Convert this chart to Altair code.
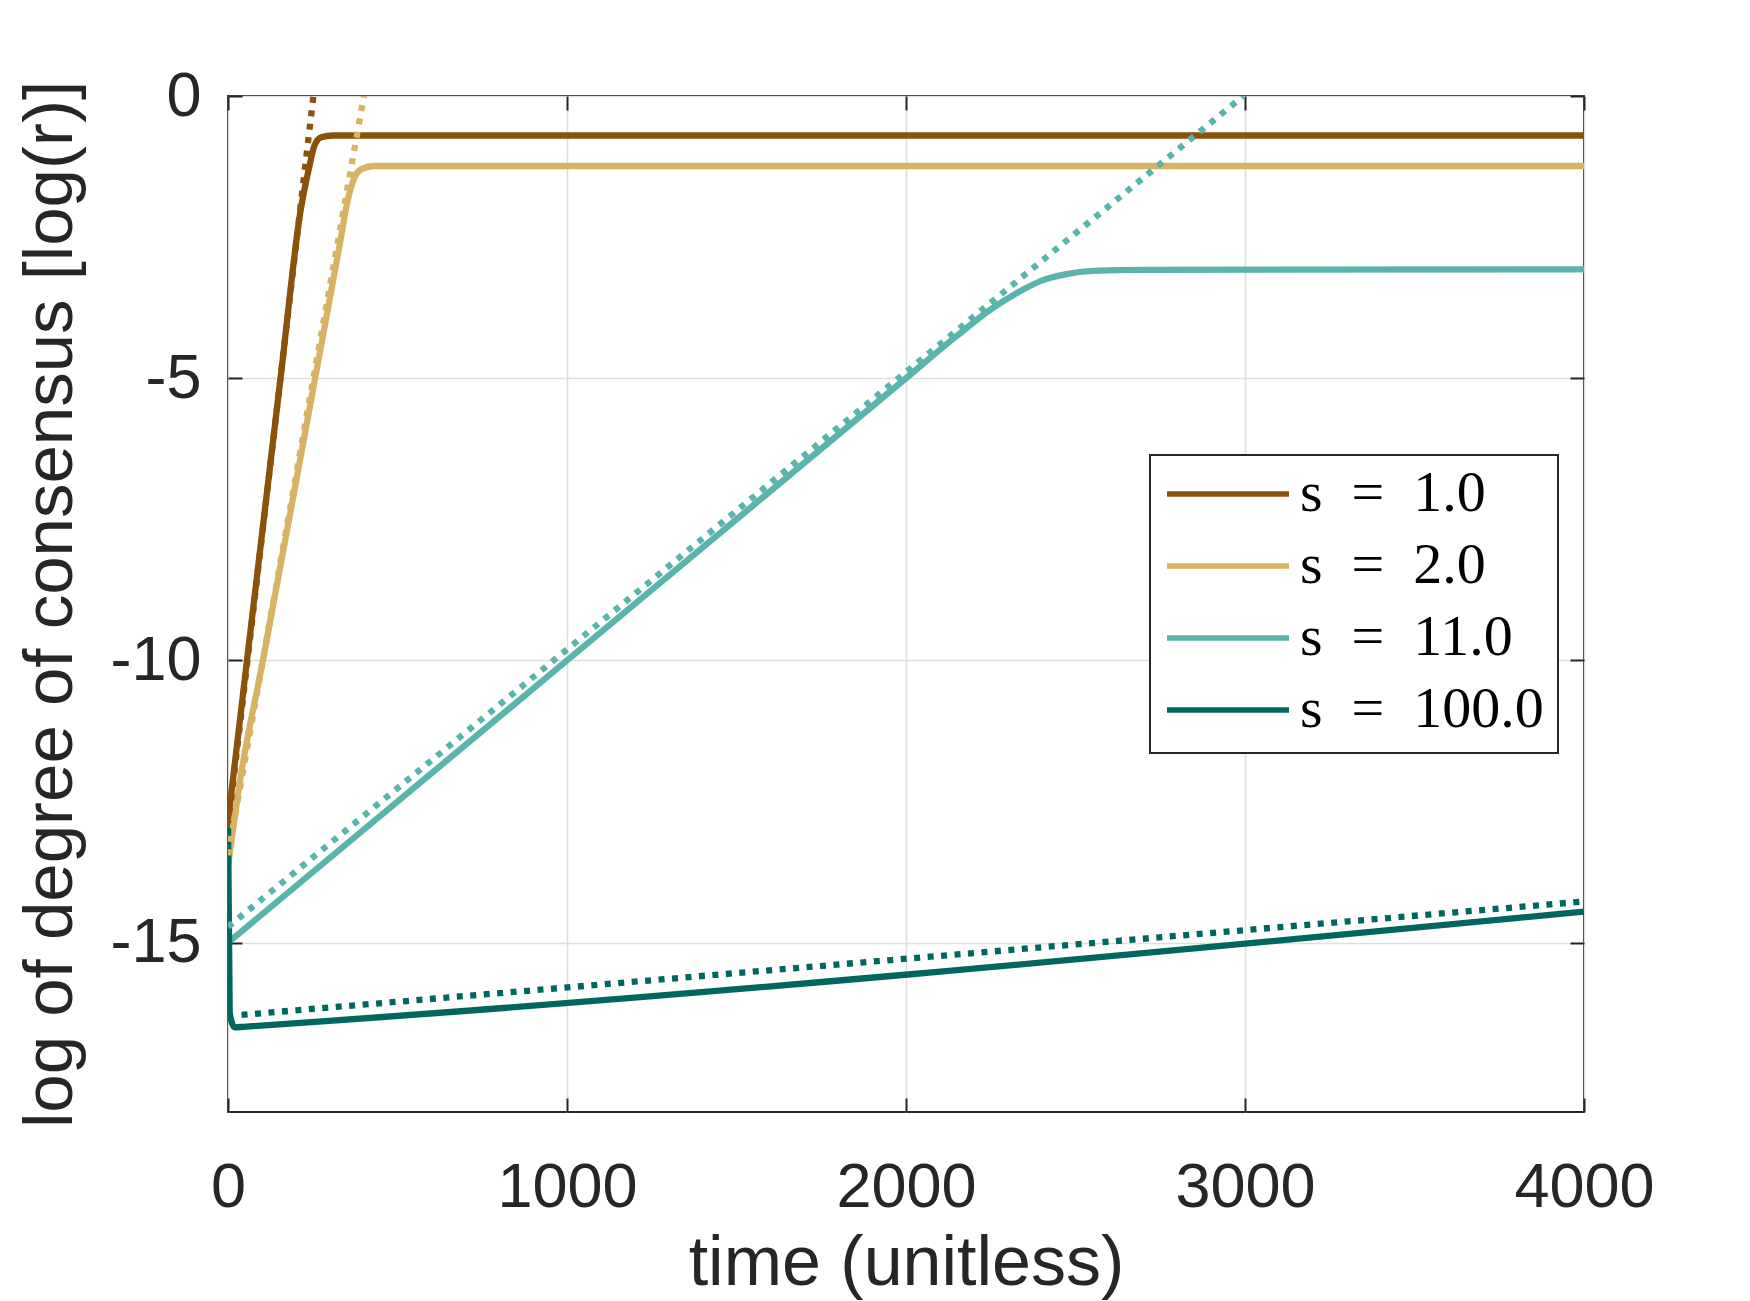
import altair as alt
import pandas as pd

# Series labels and colours (BrBG diverging palette)
series_names = ["s\u2002=\u20021.0", "s\u2002=\u20022.0", "s\u2002=\u200211.0", "s\u2002=\u2002100.0"]
series_colors = ["#8C510A", "#D8B365", "#5AB4AC", "#01665E"]

# Simulated log degree of consensus (solid lines)
t_s1 = [0, 56, 155, 215, 240, 255, 275, 310, 4000]
y_s1 = [-12.85, -10.0, -5.0, -2.0, -1.25, -0.88, -0.73, -0.70, -0.70]

t_s2 = [0, 35, 103, 257, 330, 355, 375, 395, 430, 4000]
y_s2 = [-13.65, -12.15, -10.0, -5.0, -2.62, -1.8, -1.42, -1.29, -1.24, -1.24]

t_s11 = [0, 1000, 2000, 2150, 2250, 2330, 2400, 2470, 2550, 2700, 4000]
y_s11 = [-15.0, -10.0, -5.0, -4.25, -3.78, -3.48, -3.27, -3.16, -3.1, -3.08, -3.07]

t_s100 = [0, 5, 20, 45, 4000]
y_s100 = [-12.85, -16.25, -16.5, -16.49, -14.45]

# Linear growth-rate predictions (dotted lines)
t_d1 = [0, 252]
y_d1 = [-12.95, 0.0]
t_d2 = [0, 401]
y_d2 = [-13.45, 0.0]
t_d11 = [0, 2995]
y_d11 = [-14.72, 0.0]
t_d100 = [40, 4000]
y_d100 = [-16.28, -14.27]

x_ticks = [0, 1000, 2000, 3000, 4000]
y_ticks = [-15, -10, -5, 0]


def frame(name, ts, ys):
    return pd.DataFrame({"series": name, "t": ts, "v": ys})


solid_a = pd.concat([frame(series_names[0], t_s1, y_s1),
                     frame(series_names[1], t_s2, y_s2)])
solid_b = pd.concat([frame(series_names[2], t_s11, y_s11),
                     frame(series_names[3], t_s100, y_s100)])
dotted = pd.concat([frame(series_names[0], t_d1, y_d1),
                    frame(series_names[1], t_d2, y_d2),
                    frame(series_names[2], t_d11, y_d11),
                    frame(series_names[3], t_d100, y_d100)])

W, H = 1356, 1016
INK = "#262626"
SANS = "Liberation Sans"
LW = 6.3

xs = alt.Scale(domain=[0, 4000], nice=False, zero=False)
ys = alt.Scale(domain=[-18, 0], nice=False, zero=False)
cs = alt.Scale(domain=series_names, range=series_colors)

x_main = alt.Axis(orient="bottom", values=x_ticks, format="d", grid=True, ticks=False,
                  domain=False, labelFont=SANS, labelFontSize=63, labelColor=INK,
                  labelPadding=44, labelFlush=False, labelOverlap=False,
                  title="time (unitless)", titleFont=SANS,
                  titleFontSize=70, titleFontWeight="normal", titleColor=INK,
                  titlePadding=10, gridColor="#dedede", gridWidth=1.5)
y_main = alt.Axis(orient="left", values=y_ticks, grid=True, ticks=False, domain=False,
                  labelFont=SANS, labelFontSize=63, labelColor=INK, labelPadding=27,
                  labelFlush=False, labelOverlap=False,
                  labelExpr="replace(datum.label, '\u2212', '-')",
                  title="log of degree of consensus [log(r)]", titleFont=SANS,
                  titleFontSize=69, titleFontWeight="normal", titleColor=INK,
                  titlePadding=24, gridColor="#dedede", gridWidth=1.5)

# Inward-pointing tick marks on all four sides of the frame
x_tick_top = alt.Axis(orient="bottom", offset=-H, values=x_ticks, labels=False, grid=False,
                      domain=False, tickSize=14, tickWidth=2, tickColor=INK, title=None)
x_tick_bottom = alt.Axis(orient="top", offset=-H, values=x_ticks, labels=False, grid=False,
                         domain=False, tickSize=14, tickWidth=2, tickColor=INK, title=None)
y_tick_right = alt.Axis(orient="left", offset=-W, values=y_ticks, labels=False, grid=False,
                        domain=False, tickSize=14, tickWidth=2, tickColor=INK, title=None)
y_tick_left = alt.Axis(orient="right", offset=-W, values=y_ticks, labels=False, grid=False,
                       domain=False, tickSize=14, tickWidth=2, tickColor=INK, title=None)

legend = alt.Legend(title=None, orient="none", legendX=922, legendY=359, padding=14,
                    strokeColor=INK, fillColor="white", symbolType="stroke",
                    symbolSize=14884, symbolStrokeWidth=5.5, labelFont="Liberation Serif",
                    labelFontSize=58, labelColor="black", labelLimit=0, clipHeight=50,
                    rowPadding=14, labelOffset=8, labelBaseline="middle")

layer_a = alt.Chart(solid_a).mark_line(strokeWidth=LW, interpolate="monotone", clip=True).encode(
    x=alt.X("t:Q", scale=xs, axis=x_main),
    y=alt.Y("v:Q", scale=ys, axis=y_main),
    color=alt.Color("series:N", scale=cs, legend=legend),
)

layer_b = alt.Chart(solid_b).mark_line(strokeWidth=LW, interpolate="monotone", clip=True).encode(
    x=alt.X("t:Q", scale=xs, axis=x_tick_bottom),
    y=alt.Y("v:Q", scale=ys, axis=y_tick_left),
    color=alt.Color("series:N", scale=cs, legend=None),
)

layer_c = alt.Chart(dotted).mark_line(strokeWidth=LW, strokeDash=[6, 7.5], strokeCap="butt",
                                      clip=True).encode(
    x=alt.X("t:Q", scale=xs, axis=x_tick_top),
    y=alt.Y("v:Q", scale=ys, axis=y_tick_right),
    color=alt.Color("series:N", scale=cs, legend=None),
)

chart = (
    alt.layer(layer_a, layer_b, layer_c)
    .resolve_axis(x="independent", y="independent")
    .properties(width=W, height=H, autosize=alt.AutoSizeParams(type="none"),
                padding={"left": 228, "top": 96, "right": 166, "bottom": 189},
                background="white")
    .configure_view(stroke=INK, strokeWidth=2)
    .configure_legend(strokeWidth=2)
)

chart.save("out.html", embed_options={"renderer": "svg", "actions": False})
